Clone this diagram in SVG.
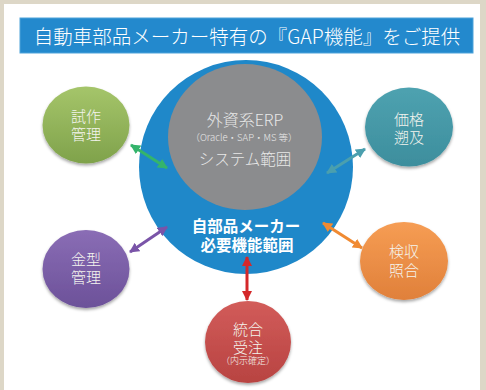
<svg xmlns="http://www.w3.org/2000/svg" width="486" height="390" viewBox="0 0 486 390">
<defs>
<style>
text{font-family:"Noto Sans CJK JP","Noto Sans",sans-serif;text-anchor:middle;}
.nt{fill:#f4f4ee;font-size:15px;font-weight:300;}
.arr{stroke-width:3;fill:none;}
</style>
<linearGradient id="gG" x1="0" y1="0" x2="0" y2="1"><stop offset="0" stop-color="#a5c56a"/><stop offset="1" stop-color="#7fa24b"/></linearGradient>
<linearGradient id="gT" x1="0" y1="0" x2="0" y2="1"><stop offset="0" stop-color="#4ea2b0"/><stop offset="1" stop-color="#3d8e9d"/></linearGradient>
<linearGradient id="gP" x1="0" y1="0" x2="0" y2="1"><stop offset="0" stop-color="#8a6db5"/><stop offset="1" stop-color="#6c5199"/></linearGradient>
<linearGradient id="gO" x1="0" y1="0" x2="0" y2="1"><stop offset="0" stop-color="#f69d54"/><stop offset="1" stop-color="#e0803a"/></linearGradient>
<linearGradient id="gR" x1="0" y1="0" x2="0" y2="1"><stop offset="0" stop-color="#d25c5a"/><stop offset="1" stop-color="#b84341"/></linearGradient>
<filter id="sh" x="-20%" y="-20%" width="140%" height="150%"><feDropShadow dx="0" dy="2" stdDeviation="1.5" flood-color="#000" flood-opacity="0.35"/></filter>
<marker id="mG" viewBox="0 0 10 10" refX="9" refY="5" markerWidth="10" markerHeight="10" markerUnits="userSpaceOnUse" orient="auto-start-reverse"><path d="M0,0L10,5L0,10z" fill="#34b46c"/></marker>
<marker id="mT" viewBox="0 0 10 10" refX="9" refY="5" markerWidth="10" markerHeight="10" markerUnits="userSpaceOnUse" orient="auto-start-reverse"><path d="M0,0L10,5L0,10z" fill="#4a9fae"/></marker>
<marker id="mP" viewBox="0 0 10 10" refX="9" refY="5" markerWidth="10" markerHeight="10" markerUnits="userSpaceOnUse" orient="auto-start-reverse"><path d="M0,0L10,5L0,10z" fill="#7a54a8"/></marker>
<marker id="mO" viewBox="0 0 10 10" refX="9" refY="5" markerWidth="10" markerHeight="10" markerUnits="userSpaceOnUse" orient="auto-start-reverse"><path d="M0,0L10,5L0,10z" fill="#f08a32"/></marker>
<marker id="mR" viewBox="0 0 10 10" refX="9" refY="5" markerWidth="10" markerHeight="10" markerUnits="userSpaceOnUse" orient="auto-start-reverse"><path d="M0,0L10,5L0,10z" fill="#d4282a"/></marker>
</defs>
<rect x="0" y="0" width="486" height="390" fill="#ddd7c7"/>
<rect x="4" y="4" width="476" height="386" fill="#ffffff"/>
<g id="title">
<rect x="20" y="18" width="453" height="35" fill="#2389cd" stroke="#4fa3da" stroke-width="1"/>
<text x="247" y="44" font-size="19.5" font-weight="300" fill="#ffffff">自動車部品メーカー特有の『GAP機能』をご提供</text>
</g>
<g id="core">
<circle cx="246" cy="167" r="107" fill="#1f88c9"/>
<text x="246" y="232" font-size="15.5" font-weight="bold" fill="#ffffff">自部品メーカー</text>
<text x="247" y="251" font-size="15.5" font-weight="bold" fill="#ffffff">必要機能範囲</text>
</g>
<g id="erp">
<ellipse cx="245" cy="137" rx="77" ry="73" fill="#8b8c8e"/>
<text x="245" y="126" font-size="16" font-weight="300" fill="#e8e8e8">外資系ERP</text>
<text x="244" y="141" font-size="9.5" font-weight="300" fill="#e8e8e8">（Oracle・SAP・MS 等）</text>
<text x="245" y="165" font-size="15.5" font-weight="300" fill="#e8e8e8">システム範囲</text>
</g>
<g id="connectors">
<line class="arr" x1="131" y1="145" x2="167" y2="168" stroke="#34b46c" marker-start="url(#mG)" marker-end="url(#mG)"/>
<line class="arr" x1="365" y1="149" x2="327" y2="173" stroke="#4a9fae" marker-start="url(#mT)" marker-end="url(#mT)"/>
<line class="arr" x1="130" y1="252" x2="167" y2="227" stroke="#7a54a8" marker-start="url(#mP)" marker-end="url(#mP)"/>
<line class="arr" x1="323" y1="223" x2="362" y2="248" stroke="#f08a32" marker-start="url(#mO)" marker-end="url(#mO)"/>
<line class="arr" x1="247" y1="257" x2="247" y2="300" stroke="#d4282a" marker-start="url(#mR)" marker-end="url(#mR)"/>
</g>
<g id="node-shisaku">
<ellipse cx="86" cy="125" rx="43.5" ry="38.5" fill="url(#gG)" filter="url(#sh)"/>
<text class="nt" x="86" y="122">試作</text>
<text class="nt" x="86" y="140">管理</text>
</g>
<g id="node-kakaku">
<ellipse cx="409" cy="127" rx="44" ry="39.5" fill="url(#gT)" filter="url(#sh)"/>
<text class="nt" x="409" y="125">価格</text>
<text class="nt" x="409" y="143">遡及</text>
</g>
<g id="node-kanagata">
<ellipse cx="86" cy="269" rx="43.5" ry="39" fill="url(#gP)" filter="url(#sh)"/>
<text class="nt" x="86" y="265">金型</text>
<text class="nt" x="86" y="283">管理</text>
</g>
<g id="node-kenshu">
<ellipse cx="404" cy="261" rx="44" ry="39" fill="url(#gO)" filter="url(#sh)"/>
<text class="nt" x="404" y="257">検収</text>
<text class="nt" x="404" y="276">照合</text>
</g>
<g id="node-togo">
<ellipse cx="248" cy="342" rx="43" ry="41" fill="url(#gR)" filter="url(#sh)"/>
<text class="nt" x="248" y="335">統合</text>
<text class="nt" x="248" y="353">受注</text>
<text x="248" y="364" font-size="9" font-weight="300" fill="#f4f4ee">（内示確定）</text>
</g>
</svg>
